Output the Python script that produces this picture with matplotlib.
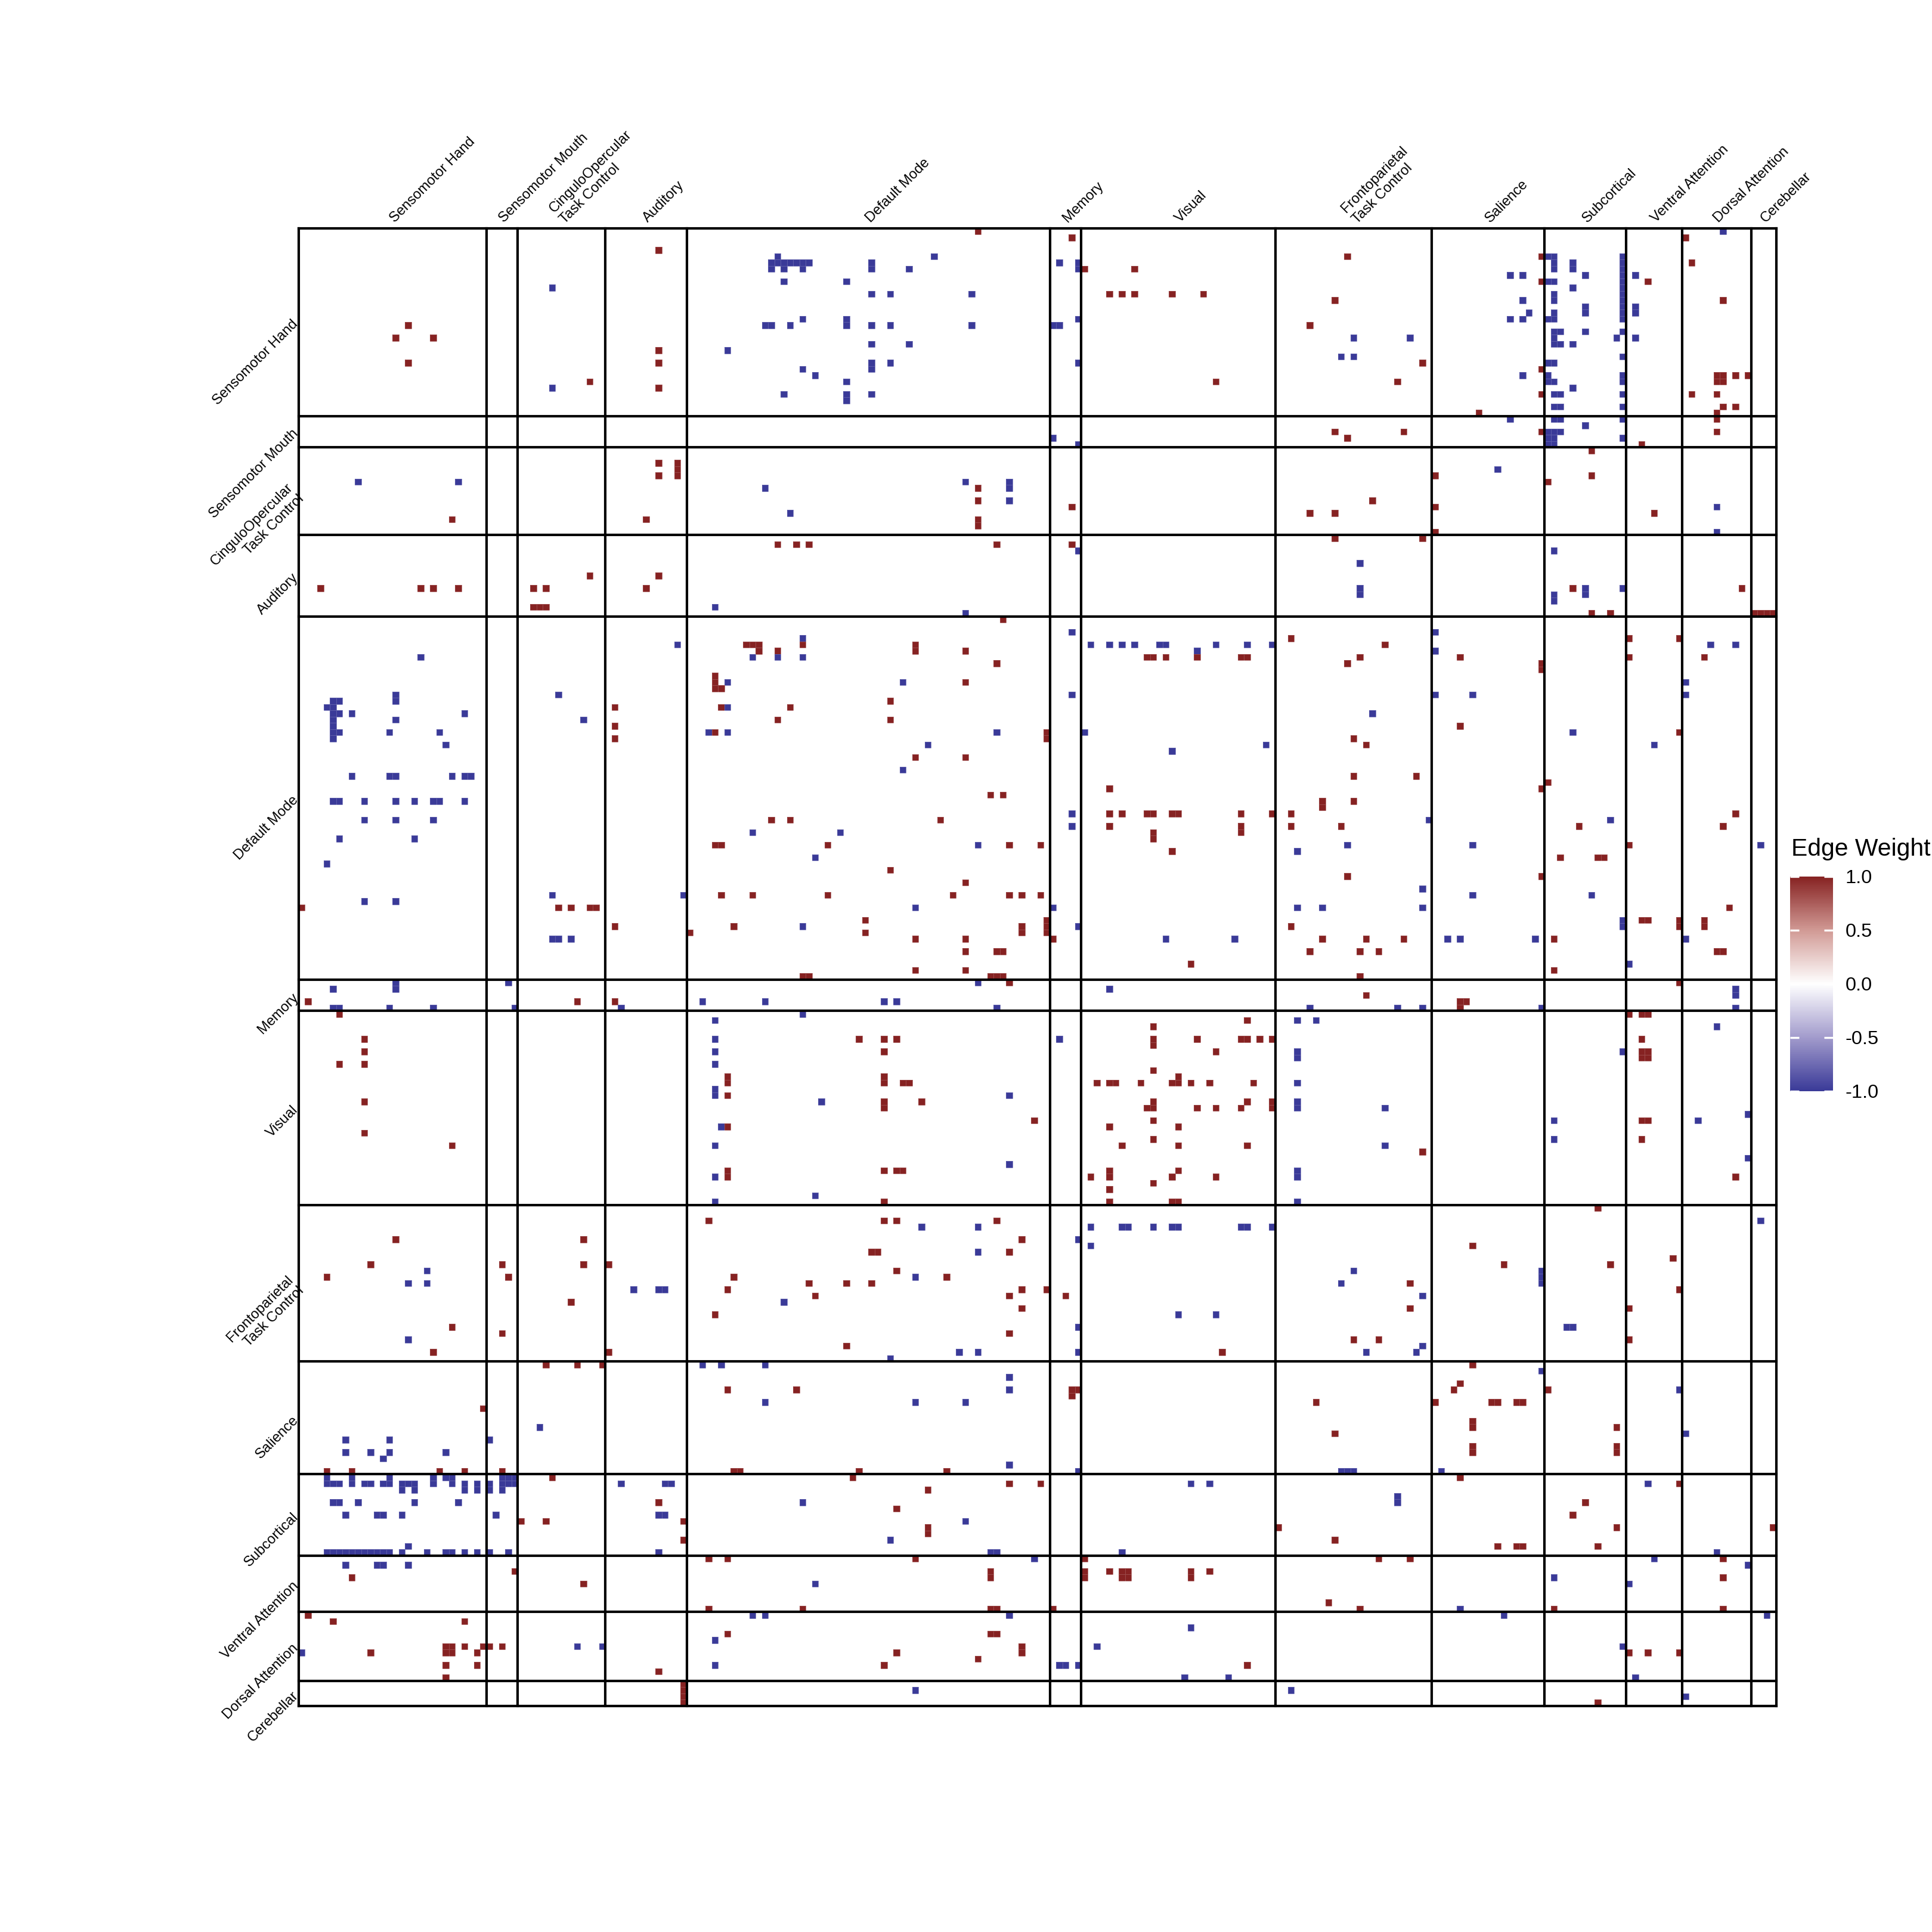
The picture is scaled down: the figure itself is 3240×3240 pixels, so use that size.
import numpy as np
import matplotlib
matplotlib.use("Agg")
import matplotlib.pyplot as plt
from matplotlib.colors import LinearSegmentedColormap

plt.rcParams['font.family'] = ['Liberation Sans', 'DejaVu Sans']

# network order and number of nodes in each
groups = ["Sensomotor Hand", "Sensomotor Mouth", "CinguloOpercular\nTask Control",
          "Auditory", "Default Mode", "Memory", "Visual",
          "Frontoparietal\nTask Control", "Salience", "Subcortical",
          "Ventral Attention", "Dorsal Attention", "Cerebellar"]
sizes = [30, 5, 14, 13, 58, 5, 31, 25, 18, 13, 9, 11, 4]

# upper-triangle edges (row, col); the matrix is mirrored below
pos_edges = [
    (3, 57), (15, 17), (17, 21), (19, 57), (21, 57), (24, 46), (25, 57), (37, 57), (39, 57),
    (46, 55), (55, 57),
    (0, 108), (37, 60), (38, 60), (39, 60), (41, 108), (43, 108), (46, 108), (47, 108),
    (50, 76), (50, 79), (50, 81), (50, 111),
    (1, 123), (4, 167), (6, 125), (6, 133), (10, 129), (10, 131), (10, 133), (10, 139),
    (10, 144), (11, 165), (15, 161), (24, 146), (24, 175), (32, 165), (32, 176), (33, 167),
    (43, 171), (44, 123), (45, 161), (45, 165), (49, 165), (50, 123),
    (1, 221), (4, 198), (5, 222), (8, 198), (8, 215), (11, 227), (21, 179), (22, 198),
    (23, 226), (23, 227), (23, 229), (23, 231), (24, 226), (24, 227), (26, 198), (26, 222),
    (26, 226), (28, 227), (28, 229), (29, 188), (29, 226), (30, 226), (32, 198), (32, 226),
    (34, 214), (35, 206), (39, 181), (39, 206), (40, 199), (44, 181), (45, 216), (48, 181),
    (49, 179), (57, 203), (57, 230), (61, 206), (61, 209), (61, 232), (61, 233), (61, 234),
    (61, 235),
    (62, 112), (66, 71), (66, 72), (66, 73), (66, 80), (66, 98), (67, 73), (67, 76), (67, 98),
    (67, 106), (69, 111), (72, 106), (75, 94), (76, 78), (78, 94), (84, 98), (84, 106),
    (90, 110), (90, 112), (94, 102), (98, 113), (98, 118), (104, 106), (106, 113), (106, 115),
    (106, 118), (111, 115), (112, 115),
    (65, 158), (66, 173), (68, 135), (68, 136), (68, 138), (68, 143), (68, 150), (68, 151),
    (68, 169), (69, 167), (80, 119), (81, 119), (81, 168), (82, 170), (87, 168), (89, 129),
    (91, 163), (91, 168), (92, 163), (93, 129), (93, 131), (93, 135), (93, 136), (93, 139),
    (93, 140), (93, 150), (93, 155), (93, 158), (95, 129), (95, 150), (95, 158), (95, 166),
    (96, 136), (96, 150), (97, 136), (99, 139), (103, 167), (110, 119), (111, 119),
    (111, 158), (112, 119), (113, 120), (113, 163), (113, 170), (113, 176), (115, 161),
    (115, 169), (115, 172), (117, 142),
    (65, 212), (65, 220), (68, 185), (68, 212), (68, 224), (69, 198), (70, 198), (79, 185),
    (80, 220), (87, 178), (88, 199), (89, 198), (93, 229), (95, 204), (95, 227), (98, 212),
    (100, 201), (100, 207), (100, 208), (103, 198), (108, 228), (110, 214), (110, 215),
    (110, 220), (110, 224), (111, 220), (111, 224), (113, 200), (115, 226), (115, 227),
    (118, 200),
    (119, 169), (122, 170), (126, 151), (127, 136), (129, 136), (129, 143), (129, 150),
    (129, 151), (129, 153), (129, 155), (130, 136), (131, 146), (134, 136), (135, 140),
    (136, 139), (136, 140), (136, 142), (136, 145), (136, 152), (139, 151), (139, 155),
    (140, 143), (140, 146), (140, 150), (140, 155), (146, 151), (168, 177), (172, 177),
    (120, 220), (123, 185), (123, 186), (124, 185), (125, 212), (125, 214), (125, 215),
    (129, 214), (131, 214), (131, 215), (132, 214), (132, 215), (142, 214), (142, 215),
    (145, 214), (147, 179), (151, 229), (156, 207), (162, 187), (164, 219), (165, 192),
    (165, 209), (169, 220), (172, 212), (177, 212),
    (181, 187), (184, 185), (185, 199), (187, 190), (187, 191), (187, 194), (187, 195),
    (191, 210), (194, 210), (195, 210), (200, 220), (203, 205), (207, 210), (207, 235),
    (212, 227), (215, 227), (220, 227),
]

neg_edges = [
    (9, 40), (25, 40),
    (4, 76), (4, 101), (5, 75), (5, 76), (5, 77), (5, 78), (5, 79), (5, 80), (5, 81), (5, 91),
    (6, 75), (6, 77), (6, 80), (6, 91), (6, 97), (8, 77), (8, 87), (10, 91), (10, 94),
    (10, 107), (14, 80), (14, 87), (15, 74), (15, 75), (15, 78), (15, 87), (15, 91), (15, 94),
    (15, 107), (18, 91), (18, 97), (19, 68), (21, 91), (21, 94), (22, 80), (22, 91), (23, 82),
    (24, 87), (26, 77), (26, 87), (26, 91), (27, 87), (40, 106), (40, 113), (41, 74),
    (41, 113), (43, 113), (45, 78),
    (5, 121), (5, 124), (6, 124), (14, 124), (15, 120), (15, 121), (17, 168), (17, 177),
    (20, 166), (20, 168), (21, 124), (33, 120), (34, 124), (51, 124), (53, 169), (57, 169),
    (58, 169),
    (0, 227), (4, 199), (4, 200), (4, 211), (5, 200), (5, 203), (5, 211), (6, 200), (6, 203),
    (6, 211), (7, 193), (7, 195), (7, 205), (7, 211), (7, 213), (8, 199), (8, 200), (8, 211),
    (9, 203), (9, 211), (10, 200), (10, 211), (11, 195), (11, 200), (11, 211), (12, 205),
    (12, 211), (12, 213), (13, 196), (13, 200), (13, 205), (13, 211), (13, 213), (14, 193),
    (14, 195), (14, 199), (14, 200), (14, 211), (16, 200), (16, 201), (16, 205), (16, 211),
    (17, 200), (17, 210), (17, 213), (18, 200), (18, 201), (18, 203), (20, 211), (21, 199),
    (21, 200), (23, 195), (23, 199), (23, 211), (24, 199), (24, 200), (24, 211), (25, 203),
    (26, 200), (26, 201), (26, 211), (28, 200), (28, 201), (28, 211), (30, 193), (30, 200),
    (30, 201), (30, 211), (31, 205), (32, 199), (32, 200), (32, 201), (33, 199), (33, 200),
    (33, 211), (34, 199), (34, 200), (38, 191), (44, 226), (48, 226), (51, 200), (57, 205),
    (57, 211), (58, 200), (58, 205), (59, 200),
    (60, 66), (61, 106), (65, 80), (68, 72), (68, 76), (68, 80), (72, 96), (80, 111),
    (82, 100), (86, 96), (98, 108),
    (64, 123), (66, 126), (66, 129), (66, 131), (66, 133), (66, 137), (66, 138), (66, 146),
    (66, 151), (66, 155), (67, 143), (74, 123), (77, 171), (80, 125), (82, 154), (83, 139),
    (93, 123), (95, 123), (98, 167), (99, 159), (108, 120), (108, 159), (108, 163),
    (111, 124), (113, 138), (113, 149),
    (64, 181), (66, 225), (66, 229), (67, 181), (72, 221), (74, 181), (74, 187), (74, 221),
    (80, 203), (82, 216), (94, 180), (94, 209), (98, 187), (98, 233), (105, 179), (106, 187),
    (106, 206), (108, 179), (110, 211), (111, 211), (113, 183), (113, 185), (113, 197),
    (113, 221), (117, 212),
    (121, 129), (124, 161), (124, 175), (126, 159), (126, 162), (131, 159), (132, 159),
    (136, 159), (139, 159), (140, 159), (140, 173), (146, 173), (150, 159), (151, 159),
    (155, 159), (166, 168),
    (121, 229), (122, 229), (124, 179), (124, 198), (124, 229), (127, 226), (131, 211),
    (141, 231), (142, 200), (142, 223), (145, 200), (148, 231), (158, 233), (166, 198),
    (167, 198), (168, 198), (170, 179), (175, 202), (175, 203),
    (178, 179), (182, 198), (185, 220), (192, 221), (200, 215), (211, 226), (212, 216),
    (213, 231), (221, 234),
]

n = sum(sizes)
mat = np.full((n, n), np.nan)
for i, j in pos_edges:
    mat[i, j] = mat[j, i] = 1.0
for i, j in neg_edges:
    mat[i, j] = mat[j, i] = -1.0

bounds = np.concatenate([[0], np.cumsum(sizes)])
centers = (bounds[:-1] + bounds[1:]) / 2

cmap = LinearSegmentedColormap.from_list(
    "edge", [(0.0, "#3A3A98"), (0.25, "#A29BCC"), (0.5, "#FFFFFF"),
             (0.75, "#D19A95"), (1.0, "#862222")])

fig = plt.figure(figsize=(10.8, 10.8), dpi=300)
ax = fig.add_axes([0.1546, 0.1170, 0.7648, 0.7648])
mesh = ax.pcolormesh(np.arange(n + 1), np.arange(n + 1), np.ma.masked_invalid(mat),
                     cmap=cmap, vmin=-1, vmax=1,
                     edgecolors=(1, 1, 1, 0.18), linewidth=0.2)
ax.set_xlim(0, n)
ax.set_ylim(n, 0)
ax.set_axis_off()

for b in bounds:
    ax.axhline(b, color="black", lw=1.0, clip_on=False)
    ax.axvline(b, color="black", lw=1.0, clip_on=False)

for name, c in zip(groups, centers):
    ax.text(c + 0.3, -0.9, name, rotation=45, rotation_mode="anchor",
            ha="left", va="baseline", fontsize=5.7)
    ax.text(-0.4, c, name, rotation=45, rotation_mode="anchor",
            ha="right", va="center", fontsize=5.7, multialignment="right")

cax = fig.add_axes([0.9265, 0.4352, 0.0222, 0.1111])
cb = fig.colorbar(mesh, cax=cax, ticks=[-1, -0.5, 0, 0.5, 1])
cb.outline.set_visible(False)
cb.ax.set_yticklabels(["-1.0", "-0.5", "0.0", "0.5", "1.0"])
cax.tick_params(axis="y", direction="in", color="white", length=3.6, width=0.8,
                left=True, right=True, labelleft=False, labelright=True,
                labelsize=7.8, pad=5)
fig.text(0.9272, 0.5571, "Edge Weight", fontsize=9.8, ha="left", va="baseline")

fig.savefig("out.png", dpi=300)
